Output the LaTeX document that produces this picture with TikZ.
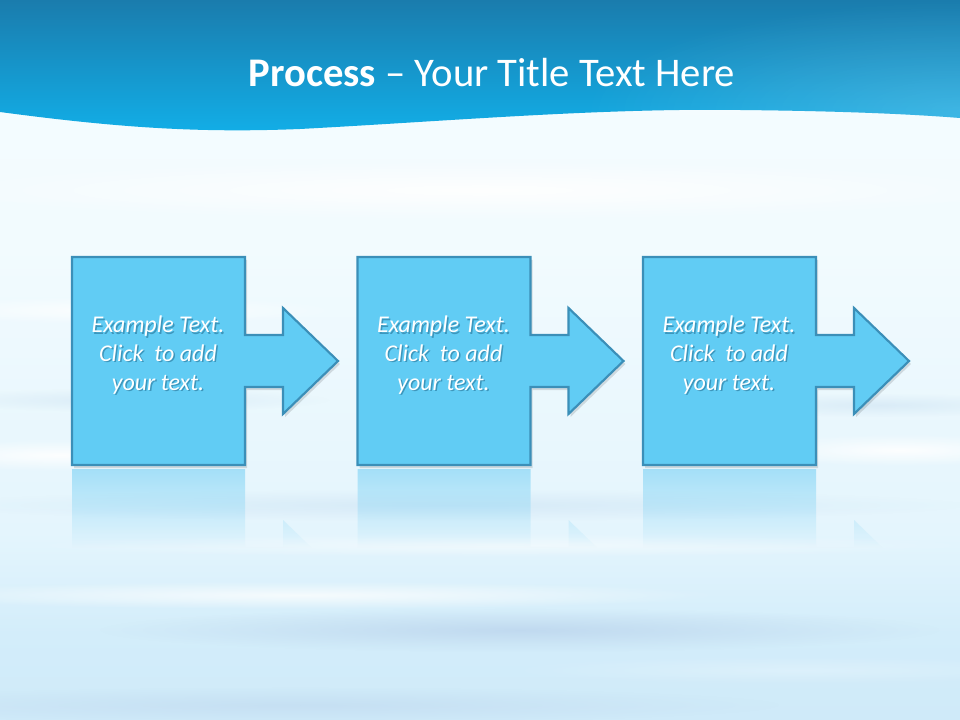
\documentclass[tikz,border=0pt]{standalone}
\usepackage{fontspec}
\setmainfont{Carlito}
\usetikzlibrary{fadings}

\definecolor{boxfill}{HTML}{61CCF4}
\definecolor{boxline}{HTML}{3B8FB8}
\definecolor{reflcol}{HTML}{7FD3F5}
\definecolor{txtshadow}{HTML}{1E6A8E}
\definecolor{bandtop}{HTML}{1A7CAD}
\definecolor{bandbot}{HTML}{12AEE7}

\definecolor{cA}{HTML}{C0DAF0}
\definecolor{cB}{HTML}{BCD5ED}
\definecolor{cC}{HTML}{C9E4F6}
\definecolor{cD}{HTML}{CFEAF9}
\definecolor{cE}{HTML}{D3EDFA}
\definecolor{cF}{HTML}{E4F5FD}
\definecolor{cG}{HTML}{F2FBFE}
\definecolor{cH}{HTML}{F4FCFF}
\definecolor{cI}{HTML}{DCF1FA}
\pgfdeclareverticalshading{skybg}{100bp}{%
  color(0bp)=(cA);color(12bp)=(cB);color(18bp)=(cC);color(25bp)=(cD);%
  color(31bp)=(cE);color(38bp)=(cF);color(58bp)=(cG);color(70bp)=(cH);%
  color(82bp)=(cI);color(100bp)=(cI)}

\tikzfading[name=softblob, inner color=transparent!0, outer color=transparent!100]
\tikzfading[name=reflfade, top color=transparent!35, bottom color=transparent!100]

\tikzset{
  procshape/.style={fill=boxfill, draw=boxline, line width=1.6pt, line join=miter},
  shapeshadow/.style={fill=black, opacity=0.12},
  boxtext/.style={text=white, align=center, font=\fontsize{18}{21.6}\selectfont\itshape, inner sep=0pt},
  boxtextshadow/.style={boxtext, text=txtshadow, opacity=0.55},
  streak/.style={fill=white, path fading=softblob},
  bluestreak/.style={fill=cB, path fading=softblob},
  titletext/.style={text=white, font=\fontsize{30.5}{36}\selectfont, inner sep=0pt, anchor=base}
}

\begin{document}
\begin{tikzpicture}[x=0.75pt,y=-0.75pt]
\useasboundingbox (0,0) rectangle (960,720);

% background sky
\shade[shading=skybg] (0,0) rectangle (960,720);
\begin{scope}
  \clip (0,0) rectangle (960,720);
  \fill[streak, opacity=0.9] (480,190) ellipse [x radius=560, y radius=30];
  \fill[streak, opacity=0.8] (120,310) ellipse [x radius=220, y radius=14];
  \fill[bluestreak, opacity=0.35] (130,400) ellipse [x radius=200, y radius=12];
  \fill[bluestreak, opacity=0.35] (880,405) ellipse [x radius=170, y radius=12];
  \fill[streak, opacity=0.9] (60,455) ellipse [x radius=180, y radius=16];
  \fill[streak, opacity=0.9] (900,450) ellipse [x radius=160, y radius=16];
  \fill[bluestreak, opacity=0.35] (450,505) ellipse [x radius=520, y radius=16];
  \fill[streak, opacity=0.5] (500,545) ellipse [x radius=480, y radius=12];
  \fill[streak, opacity=0.75] (300,595) ellipse [x radius=420, y radius=14];
  \fill[bluestreak, opacity=0.8] (520,630) ellipse [x radius=420, y radius=22];
  \fill[streak, opacity=0.25] (800,670) ellipse [x radius=300, y radius=14];
  \fill[bluestreak, opacity=0.5] (300,705) ellipse [x radius=480, y radius=18];
\end{scope}

% top band
\shade[top color=bandtop, bottom color=bandbot]
  (0,0) -- (960,0) -- (960,118)
  .. controls (910,114) and (840,111) .. (740,110)
  .. controls (600,108) and (450,121) .. (300,129)
  .. controls (200,133) and (120,128) .. (0,112) -- cycle;
\begin{scope}
  \clip (0,0) -- (960,0) -- (960,118)
  .. controls (910,114) and (840,111) .. (740,110)
  .. controls (600,108) and (450,121) .. (300,129)
  .. controls (200,133) and (120,128) .. (0,112) -- cycle;
  \fill[fill=white, path fading=softblob, opacity=0.18] (960,110) ellipse [x radius=380, y radius=110];
\end{scope}

\node[titletext] (title) at (492,87) {\textbf{Process} – Your Title Text Here};

% process shapes
\foreach \dx/\n in {0/1, 285.5/2, 571/3} {
  % reflection
  \begin{scope}
    \clip ({\dx+72},469) -- ({\dx+245},469) -- ({\dx+245},547) -- ({\dx+283},547)
      -- ({\dx+283},520) -- ({\dx+338},573) -- ({\dx+283},626) -- ({\dx+283},599)
      -- ({\dx+245},599) -- ({\dx+245},677) -- ({\dx+72},677) -- cycle;
    \fill[reflcol, path fading=reflfade] ({\dx+60},468) rectangle ({\dx+350},548);
  \end{scope}
  % drop shadow
  \fill[shapeshadow] ({\dx+74},260) -- ({\dx+247},260) -- ({\dx+247},338) -- ({\dx+285},338)
    -- ({\dx+285},311) -- ({\dx+340},364) -- ({\dx+285},417) -- ({\dx+285},390)
    -- ({\dx+247},390) -- ({\dx+247},468) -- ({\dx+74},468) -- cycle;
  % shape
  \path[procshape] ({\dx+72},257) -- ({\dx+245},257) -- ({\dx+245},335) -- ({\dx+283},335)
    -- ({\dx+283},308) -- ({\dx+338},361) -- ({\dx+283},414) -- ({\dx+283},387)
    -- ({\dx+245},387) -- ({\dx+245},465) -- ({\dx+72},465) -- cycle;
  \node[boxtextshadow] (ts\n) at ({\dx+159.5},356.5) {Example Text.\\Click~ to add\\your text.};
  \node[boxtext] (t\n) at ({\dx+158},355) {Example Text.\\Click~ to add\\your text.};
}
\end{tikzpicture}
\end{document}
